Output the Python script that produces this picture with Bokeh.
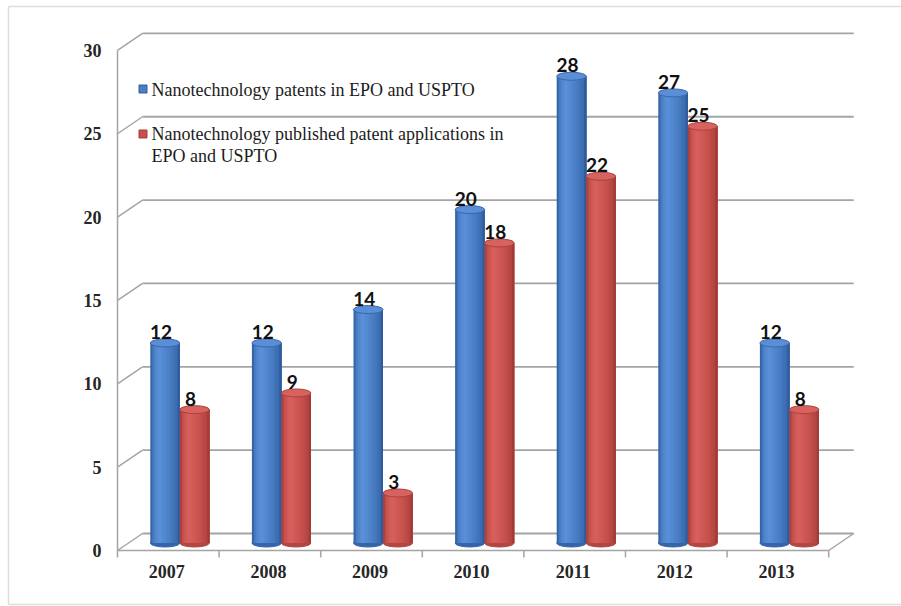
import numpy as np
from bokeh.plotting import figure
from bokeh.models import Range1d
from bokeh.core.properties import value
from bokeh.embed import file_html
from bokeh.resources import INLINE

# ---- data ----
years = ["2007", "2008", "2009", "2010", "2011", "2012", "2013"]
patents = [12, 12, 14, 20, 28, 27, 12]
applications = [8, 9, 3, 18, 22, 25, 8]
y_ticks = [0, 5, 10, 15, 20, 25, 30]
series_names = ["Nanotechnology patents in EPO and USPTO",
                "Nanotechnology published patent applications in",
                "EPO and USPTO"]

# ---- geometry (pixels -> data) ----
W, H = 901, 606
X0 = 117.0      # front left edge of category axis (px)
CAT = 101.6     # category width (px)
Y0 = 550.0      # canvas y of value 0 at the front (px)
UNIT = 16.67    # px per value unit

def dx(px):
    return px / CAT

def dy(px):
    return px / UNIT

def xd(px):  # canvas x px -> data x
    return (px - X0) / CAT

def yd(py):  # canvas y px (from top) -> data y
    return (Y0 - py) / UNIT

p = figure(width=W, height=H, x_range=Range1d(xd(0), xd(W)), y_range=Range1d(yd(H), yd(0)),
           x_axis_location=None, y_axis_location=None, min_border=0,
           toolbar_location=None, output_backend="svg", background_fill_color="white",
           border_fill_color="white")
p.grid.visible = False
p.outline_line_color = None

# outer faint frame
p.segment(x0=[xd(8), xd(8), xd(8)], y0=[yd(6), yd(6), yd(604)],
          x1=[xd(W), xd(8), xd(W)], y1=[yd(6), yd(604), yd(604)],
          line_color="#dedede", line_width=1.5)

ncat = len(years)
BDX, BDY = dx(25), dy(17)
GRID = "#a4a4a4"
ticks = np.array(y_ticks, dtype=float)

# back wall gridlines
p.segment(x0=np.full(len(ticks), BDX), y0=ticks + BDY, x1=np.full(len(ticks), ncat + BDX),
          y1=ticks + BDY, line_color=GRID, line_width=1.8)
# left wall diagonals
p.segment(x0=np.zeros(len(ticks)), y0=ticks, x1=np.full(len(ticks), BDX), y1=ticks + BDY,
          line_color=GRID, line_width=1.5)
# front vertical axis
p.segment(x0=[0], y0=[0], x1=[0], y1=[max(y_ticks)], line_color=GRID, line_width=1.5)
# floor front + right diagonal
p.segment(x0=[0, ncat], y0=[0, 0], x1=[ncat, ncat + BDX], y1=[0, BDY], line_color=GRID, line_width=1.5)
# category ticks
cats = np.arange(ncat + 1, dtype=float)
p.segment(x0=cats, y0=np.zeros(ncat + 1), x1=cats, y1=np.full(ncat + 1, -dy(7)),
          line_color=GRID, line_width=1.5)

# ---- cylinders ----
BAR_DX, BAR_DY = dx(11.5), dy(7.5)
BW = dx(29.5)
NS = 14

def grad(stops, n):
    pos = np.array([s[0] for s in stops])
    cols = np.array([[int(s[1][i:i + 2], 16) for i in (1, 3, 5)] for s in stops], dtype=float)
    out = []
    for t in (np.arange(n) + 0.5) / n:
        c = [np.interp(t, pos, cols[:, k]) for k in range(3)]
        out.append("#%02x%02x%02x" % tuple(int(round(v)) for v in c))
    return out

blue_stops = [(0.0, "#2c5a98"), (0.12, "#4a80c8"), (0.3, "#5b91d9"), (0.65, "#4a7fc6"), (0.9, "#3a6bb0"), (1.0, "#2a5290")]
red_stops = [(0.0, "#9e3a36"), (0.12, "#c8524e"), (0.3, "#d8615d"), (0.65, "#c9524e"), (0.9, "#b34541"), (1.0, "#973532")]

def cylinders(vals, side, stops, cap_fill, cap_line, base_col):
    vals = np.array(vals, dtype=float)
    centers = np.arange(ncat) + 0.5 + BAR_DX + side * BW / 2
    # bottom rounding
    p.ellipse(x=centers, y=np.full(ncat, BAR_DY), width=BW, height=8,
              width_units="data", height_units="screen",
              fill_color=base_col, line_color=base_col)
    cols = grad(stops, NS)
    sw = BW / NS
    for k in range(NS):
        p.quad(left=centers - BW / 2 + k * sw, right=centers + BW / 2,
               bottom=np.full(ncat, BAR_DY), top=vals + BAR_DY,
               fill_color=cols[k], line_color=None)
    p.ellipse(x=centers, y=vals + BAR_DY, width=BW, height=8,
              width_units="data", height_units="screen",
              fill_color=cap_fill, line_color=cap_line, line_width=1)
    p.text(x=centers, y=vals + BAR_DY, text=[str(int(v)) for v in vals],
           x_offset=-4, y_offset=-11, text_align="center", text_baseline="alphabetic",
           text_font=value("Lato"), text_font_style="bold", text_font_size="19px",
           text_color="#111111")

cylinders(patents, -1, blue_stops, "#5a8ed6", "#3a68aa", "#3565a8")
cylinders(applications, 1, red_stops, "#d8625e", "#a9423e", "#b24642")

# ---- axis labels ----
SERIF = value("Liberation Serif")
p.text(x=np.full(len(ticks), xd(101)), y=ticks, text=[str(t) for t in y_ticks],
       text_align="right", text_baseline="middle", text_font=SERIF,
       text_font_style="bold", text_font_size="18px", text_color="#262626")
p.text(x=np.arange(ncat) + 0.5 - dx(1.5), y=np.full(ncat, yd(571)), text=years,
       text_align="center", text_baseline="middle", text_font=SERIF,
       text_font_style="bold", text_font_size="18px", text_color="#262626")

# ---- legend ----
p.scatter(x=[xd(142.5), xd(142.5)], y=[yd(88.5), yd(133.5)], marker="square", size=8,
          fill_color=["#4a7ec5", "#c8504c"], line_color=["#2e5c9a", "#a53c38"])
p.text(x=[xd(151)] * 3, y=[yd(89), yd(133), yd(155)], text=series_names,
       text_align="left", text_baseline="middle", text_font=SERIF,
       text_font_size="18px", text_color="#1c1c1c")

open("out.html", "w").write(file_html(p, INLINE))
